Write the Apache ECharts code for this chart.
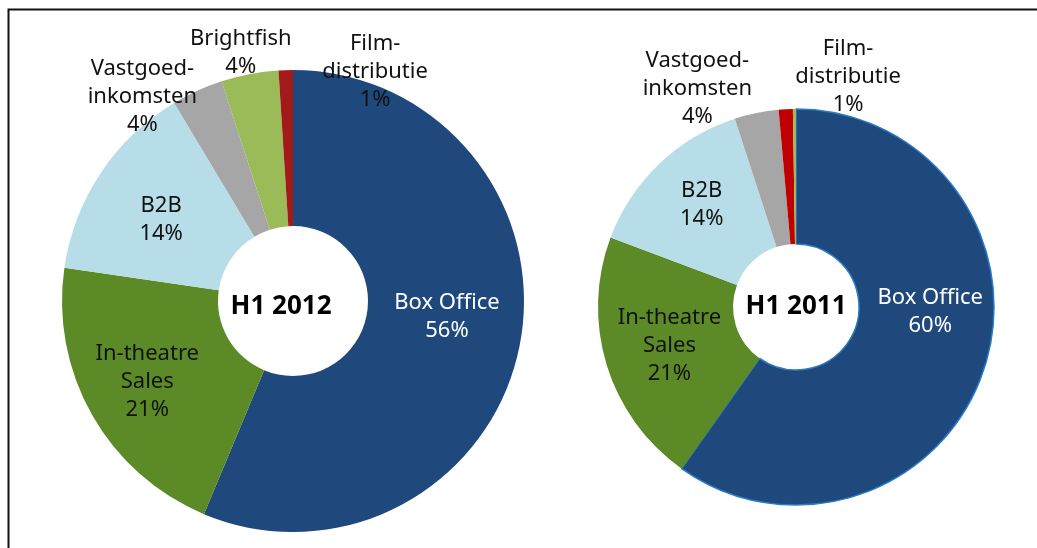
<!DOCTYPE html>
<html>
<head>
<meta charset="utf-8">
<script src="https://cdn.jsdelivr.net/npm/echarts@6/dist/echarts.min.js"></script>
<style>
  html, body { margin: 0; padding: 0; background: #fff; }
  #main { width: 1037px; height: 548px; }
</style>
</head>
<body>
<div id="main"></div>
<script>
// H1 2012 omzetverdeling
var names2012 = ['Box Office', 'In-theatre\nSales', 'B2B', 'Vastgoed-\ninkomsten', 'Brightfish', 'Film-\ndistributie'];
var values2012 = [56.3, 21.0, 14.1, 3.6, 4.0, 1.0];
var colors2012 = ['#1f497d', '#5b8a27', '#b7dee8', '#a6a6a6', '#9bbb59', '#a31a1a'];

// H1 2011
var names2011 = ['Box Office', 'In-theatre\nSales', 'B2B', 'Vastgoed-\ninkomsten', 'Film-\ndistributie', ''];
var values2011 = [59.8, 20.9, 14.3, 3.6, 1.15, 0.25];
var colors2011 = ['#1f497d', '#5b8a27', '#b7dee8', '#a6a6a6', '#c00000', '#9bbb59'];

var centerLabels = ['H1 2012', 'H1 2011'];

// label verschuivingen t.o.v. de 'inside' positie
var offsets2012 = [[1, -15], [-10, 4], [-2, 5], [-86, -62], [-23, -95], [87, -73]];
var offsets2011 = [[7, -36], [1, -1], [-2, -6], [-72, -87], [59, -97], [0, 0]];

var FONT = '"Noto Sans", sans-serif';

function buildData(names, values, colors, offsets, blueBorder){
  var data = [];
  for (var i = 0; i < values.length; i++) {
    var item = {
      name: names[i],
      value: values[i],
      itemStyle: { color: colors[i] },
      label: {
        show: names[i] !== '',
        offset: offsets[i],
        color: i === 0 ? '#ffffff' : '#111111'
      }
    };
    if (i === 0 && blueBorder) {
      item.itemStyle.borderColor = '#2a7cc7';
      item.itemStyle.borderWidth = 1.5;
    }
    data.push(item);
  }
  return data;
}

function pieSeries(center, radius, data){
  return {
    type: 'pie',
    center: center,
    radius: radius,
    startAngle: 90,
    clockwise: true,
    avoidLabelOverlap: false,
    silent: true,
    itemStyle: { borderWidth: 0 },
    label: {
      position: 'inside',
      fontFamily: FONT,
      fontSize: 22,
      lineHeight: 28,
      formatter: function (p) { return p.name + '\n' + Math.round(p.value) + '%'; }
    },
    labelLayout: { hideOverlap: false },
    labelLine: { show: false },
    data: data
  };
}

var myChart = echarts.init(document.getElementById('main'));
var option = {
  backgroundColor: '#ffffff',
  animation: false,
  title: [
    { text: centerLabels[0], left: 276, top: 302, textAlign: 'center', textVerticalAlign: 'middle',
      textStyle: { fontFamily: FONT, fontSize: 26, fontWeight: 'bold', color: '#000' } },
    { text: centerLabels[1], left: 791, top: 302, textAlign: 'center', textVerticalAlign: 'middle',
      textStyle: { fontFamily: FONT, fontSize: 26, fontWeight: 'bold', color: '#000' } }
  ],
  graphic: [
    { type: 'polyline', silent: true,
      shape: { points: [[8.5, 548], [8.5, 9.5], [1037, 9.5]] },
      style: { stroke: '#111', lineWidth: 2, fill: null } }
  ],
  series: [
    pieSeries([293, 301], [75, 231], buildData(names2012, values2012, colors2012, offsets2012, false)),
    pieSeries([796, 307], [63, 198], buildData(names2011, values2011, colors2011, offsets2011, true))
  ]
};
myChart.setOption(option);
</script>
</body>
</html>
